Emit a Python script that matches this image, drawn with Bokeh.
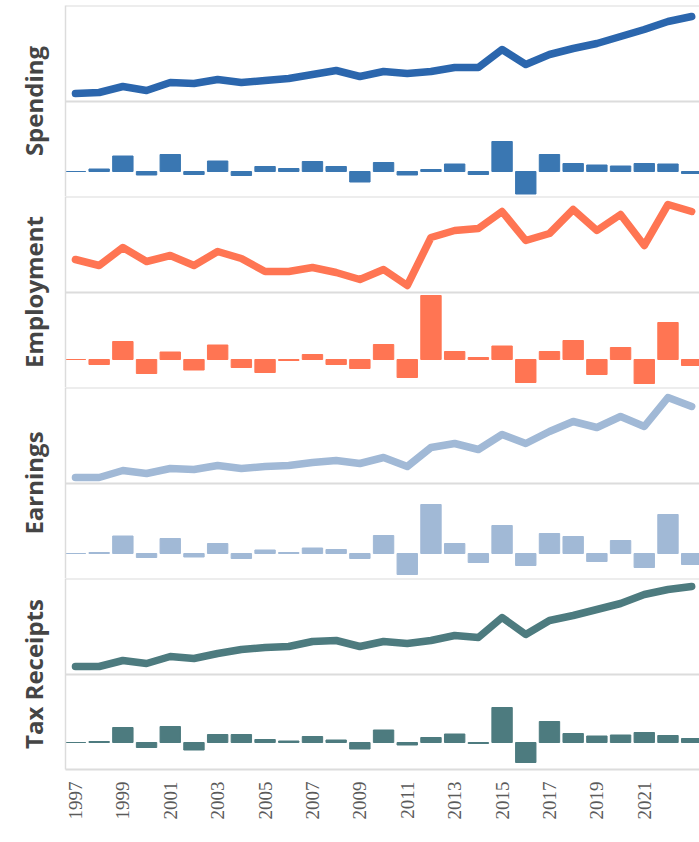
import math
from bokeh.plotting import figure
from bokeh.models import Range1d, Span, FixedTicker
from bokeh.layouts import column
from bokeh.embed import file_html
from bokeh.resources import INLINE

# ---- data (arbitrary units) ----
years = [1997, 1998, 1999, 2000, 2001, 2002, 2003, 2004, 2005, 2006, 2007, 2008, 2009,
         2010, 2011, 2012, 2013, 2014, 2015, 2016, 2017, 2018, 2019, 2020, 2021, 2022, 2023]
tick_years = [1997, 1999, 2001, 2003, 2005, 2007, 2009, 2011, 2013, 2015, 2017, 2019, 2021]

spending = [103, 104, 110, 106, 114, 113, 117, 114, 116, 118, 122, 126, 120,
            125, 123, 125, 129, 129, 147, 132, 142, 148, 153, 160, 167, 175, 180]
spending_chg = [0, 2.5, 15.5, -3.5, 17, -3, 10.5, -4, 5, 3, 10, 5, -10.5,
                9, -3.5, 2, 7.5, -3, 30, -22.5, 17, 8, 6.5, 5.5, 8, 7.5, -2]

employment = [128, 122, 140, 126, 132, 122, 136, 129, 116, 116, 120, 115, 108,
              118, 102, 150, 157, 159, 176, 147, 154, 178, 157, 173, 142, 183, 176]
employment_chg = [0, -5, 18, -14, 7.5, -10.5, 14.5, -8, -13, -1, 5, -5, -9,
                  15, -18, 64, 8, 2, 13.5, -23, 8, 19, -15, 12, -24, 37, -6]

earnings = [101, 101, 108, 105, 110, 109, 113, 110, 112, 113, 116, 118, 115,
            121, 112, 131, 135, 129, 144, 135, 147, 157, 151, 162, 152, 181, 172]
earnings_chg = [0, 1, 17.5, -4, 15, -3.5, 10, -5, 3.5, 1, 5.5, 4, -5,
                18, -21, 49, 10, -9, 28, -12, 20, 17, -8, 13, -14, 39, -11]

tax = [103, 103, 109, 106, 113, 111, 116, 120, 122, 123, 128, 129, 123,
       128, 126, 129, 134, 132, 152, 135, 149, 154, 160, 166, 175, 180, 183]
tax_chg = [0, 1, 15, -5, 16, -7.5, 8, 8, 3, 1.5, 6, 2.5, -6.5,
           12.5, -2.5, 5, 8.5, -1, 35, -20, 21, 9, 6.5, 7.5, 10, 7, 4]

names = ["Spending", "Employment", "Earnings", "Tax Receipts"]
levels = [spending, employment, earnings, tax]
changes = [spending_chg, employment_chg, earnings_chg, tax_chg]
line_colors = ["#2b66ad", "#ff7553", "#a1b9d6", "#4d7b7f"]
bar_colors = ["#3a77b2", "#ff7553", "#a1b9d6", "#4d7b7f"]
bar_ranges = [(-25, 166), (-28, 163), (-25, 166), (-27, 164)]
level_range = (0, 191)

GRID = "#dcdcdc"
xr = Range1d(1996.58, 2023.33)

figs = []
for i, name in enumerate(names):
    first = i == 0
    last = i == len(names) - 1
    p = figure(frame_width=634, frame_height=191, x_range=xr,
               y_range=Range1d(*bar_ranges[i]),
               output_backend="svg", toolbar_location=None,
               min_border_left=65, min_border_right=0,
               min_border_top=5 if first else 0, min_border_bottom=0)
    p.extra_y_ranges = {"level": Range1d(*level_range)}
    p.outline_line_color = None
    p.xgrid.visible = False
    p.ygrid.visible = False

    # separators
    p.add_layout(Span(location=level_range[1], dimension="width", y_range_name="level",
                      line_color=GRID, line_width=2))
    p.add_layout(Span(location=95, dimension="width", y_range_name="level",
                      line_color=GRID, line_width=2))

    p.vbar(x=years, top=changes[i], bottom=0, width=0.86,
           fill_color=bar_colors[i], line_color=bar_colors[i], line_width=1)
    p.line(years, levels[i], y_range_name="level", line_color=line_colors[i],
           line_width=7.5, line_join="round", line_cap="round")

    ya = p.yaxis[0]
    ya.ticker = FixedTicker(ticks=[])
    ya.major_tick_line_color = None
    ya.minor_tick_line_color = None
    ya.major_label_text_font_size = "0px"
    ya.axis_line_color = GRID
    ya.axis_line_width = 1.5
    ya.axis_label = name
    ya.axis_label_text_font = "Open Sans"
    ya.axis_label_text_font_style = "bold"
    ya.axis_label_text_font_size = "24px"
    ya.axis_label_text_color = "#454545"
    ya.axis_label_standoff = 16

    xa = p.xaxis[0]
    if last:
        xa.ticker = FixedTicker(ticks=tick_years)
        xa.major_label_orientation = math.pi / 2
        xa.major_label_text_font = "Liberation Serif"
        xa.major_label_text_font_size = "19px"
        xa.major_label_text_color = "#5a5a5a"
        xa.axis_line_color = GRID
        xa.axis_line_width = 2
        xa.major_tick_line_color = None
        xa.minor_tick_line_color = None
        xa.major_label_standoff = 6
    else:
        xa.visible = False
    figs.append(p)

layout = column(*figs, spacing=0)
open("out.html", "w").write(file_html(layout, INLINE))
